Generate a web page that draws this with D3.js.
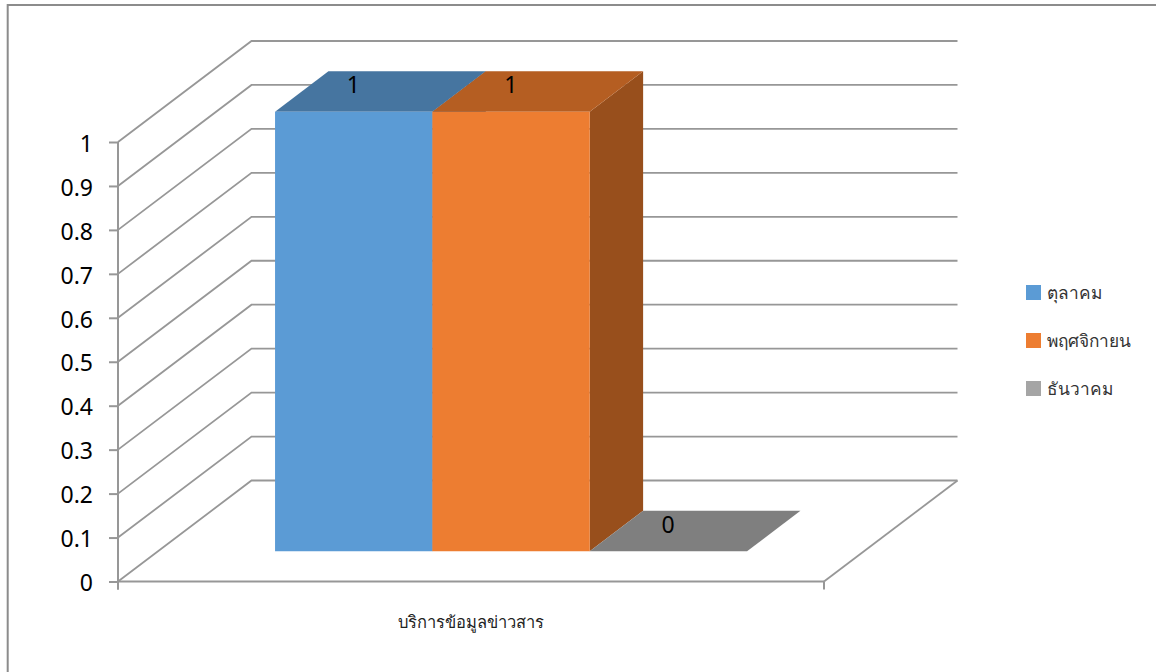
<!DOCTYPE html>
<html>
<head>
<meta charset="utf-8">
<script src="https://cdn.jsdelivr.net/npm/d3@7"></script>
<style>
  html, body { margin: 0; padding: 0; background: #fff; overflow: hidden; }
  text { font-family: "Noto Sans", "DejaVu Sans", sans-serif; }
  .thai { font-family: "Noto Sans", "Noto Sans CJK SC", "DejaVu Sans", sans-serif; }
</style>
</head>
<body>
<svg id="chart" width="1156" height="672"></svg>
<script>
'use strict';

var categories = ['บริการข้อมูลข่าวสาร'];
var seriesNames = ['ตุลาคม', 'พฤศจิกายน', 'ธันวาคม'];
var seriesValues = [1, 1, 0];
var tickLabels = [0, 0.1, 0.2, 0.3, 0.4, 0.5, 0.6, 0.7, 0.8, 0.9, 1];

var frontColors = ['#5b9bd5', '#ed7d31', '#a5a5a5'];
var topColors = ['#4675a0', '#b55e22', '#7f7f7f'];
var sideColors = ['#41719c', '#984f1c', '#7c7c7c'];
var gridColor = '#979797';

var svg = d3.select('#chart');

var y = d3.scaleLinear().domain([0, 1]).range([581.5, 142]);
var xCat = d3.scaleBand().domain(categories).range([118, 824]);
var xSeries = d3.scaleBand().domain(seriesNames)
  .range([xCat(categories[0]) + 117, xCat(categories[0]) + xCat.bandwidth() - 117]);

// depth goes 0 (front of floor) to 1 (back wall)
var depthX = d3.scaleLinear().domain([0, 1]).range([0, 133.5]);
var depthY = d3.scaleLinear().domain([0, 1]).range([0, -101]);
var project = function project(x, value, depth) {
  return [x + depthX(depth), y(value) + depthY(depth)];
};
var polygon = function polygon(points) {
  return points.join(' ');
};

// frame
svg.append('path')
  .attr('d', 'M7.7,672V5H1156')
  .attr('fill', 'none')
  .attr('stroke', '#8c8c8c')
  .attr('stroke-width', 2);

// side wall + back wall gridlines
svg.append('g').selectAll('polyline')
  .data(tickLabels)
  .join('polyline')
    .attr('fill', 'none')
    .attr('stroke', gridColor)
    .attr('stroke-width', 1.8)
    .attr('points', function (d) {
      return polygon([project(118, d, 0), project(118, d, 1), project(824, d, 1)]);
    });

// floor right edge
svg.append('line')
  .attr('stroke', gridColor)
  .attr('stroke-width', 1.8)
  .attr('x1', project(824, 0, 0)[0]).attr('y1', project(824, 0, 0)[1])
  .attr('x2', project(824, 0, 1)[0]).attr('y2', project(824, 0, 1)[1]);

// y axis
var yAxis = svg.append('g')
  .attr('transform', 'translate(118,0)')
  .call(d3.axisLeft(y).tickValues(tickLabels).tickSize(9).tickPadding(16).tickFormat(function (d) { return d; }));
yAxis.selectAll('path, line').attr('stroke', gridColor).attr('stroke-width', 2);
yAxis.selectAll('text').attr('font-size', 23).attr('font-family', '"Noto Sans"').attr('fill', '#000').attr('dy', '0.4em');
yAxis.select('.domain').attr('d', 'M0,' + y(1) + 'V' + (y(0) + 8));

// x axis
var xAxis = svg.append('g')
  .attr('transform', 'translate(0,' + y(0) + ')')
  .call(d3.axisBottom(xCat).tickSize(0).tickPadding(35));
xAxis.select('.domain').attr('stroke', gridColor).attr('stroke-width', 2)
  .attr('d', 'M118,0H824');
xAxis.selectAll('text').attr('class', 'thai').attr('font-size', 16.5).attr('fill', '#222');
xAxis.selectAll('.edge')
  .data(xCat.range())
  .join('line')
    .attr('class', 'edge')
    .attr('stroke', gridColor)
    .attr('stroke-width', 2)
    .attr('x1', function (d) { return d; })
    .attr('x2', function (d) { return d; })
    .attr('y1', 0)
    .attr('y2', 8);

// bars, depth 0.3 to 0.7 like the excel default
var bars = svg.append('g').selectAll('g')
  .data(seriesNames)
  .join('g');

bars.append('polygon')
  .attr('fill', function (d, i) { return sideColors[i]; })
  .attr('points', function (d, i) {
    var x1 = xSeries(d) + xSeries.bandwidth();
    var v = seriesValues[i];
    return polygon([project(x1, 0, 0.3), project(x1, 0, 0.7), project(x1, v, 0.7), project(x1, v, 0.3)]);
  });

bars.append('polygon')
  .attr('fill', function (d, i) { return topColors[i]; })
  .attr('points', function (d, i) {
    var x0 = xSeries(d), x1 = x0 + xSeries.bandwidth();
    var v = seriesValues[i];
    return polygon([project(x0, v, 0.3), project(x1, v, 0.3), project(x1, v, 0.7), project(x0, v, 0.7)]);
  });

bars.append('polygon')
  .attr('fill', function (d, i) { return frontColors[i]; })
  .attr('points', function (d, i) {
    var x0 = xSeries(d), x1 = x0 + xSeries.bandwidth();
    var v = seriesValues[i];
    return polygon([project(x0, 0, 0.3), project(x1, 0, 0.3), project(x1, v, 0.3), project(x0, v, 0.3)]);
  });

// data labels, centered on bar top
bars.append('text')
  .attr('text-anchor', 'middle')
  .attr('font-size', 23)
  .attr('fill', '#000')
  .attr('x', function (d, i) { return project(xSeries(d) + xSeries.bandwidth() / 2, seriesValues[i], 0.5)[0] - 27; })
  .attr('y', function (d, i) { return project(xSeries(d), seriesValues[i], 0.7)[1] + 22; })
  .text(function (d, i) { return seriesValues[i]; });

// legend
var legendY = d3.scalePoint().domain(seriesNames).range([292.5, 388.5]);
var legend = svg.append('g').selectAll('g')
  .data(seriesNames)
  .join('g')
    .attr('transform', function (d) { return 'translate(1026,' + legendY(d) + ')'; });
legend.append('rect')
  .attr('x', 0).attr('y', -7.5)
  .attr('width', 15).attr('height', 15)
  .attr('fill', function (d, i) { return frontColors[i]; });
legend.append('text')
  .attr('class', 'thai')
  .attr('x', 21).attr('y', 6)
  .attr('font-size', 17.3)
  .attr('fill', '#333')
  .text(function (d) { return d; });
</script>
</body>
</html>
